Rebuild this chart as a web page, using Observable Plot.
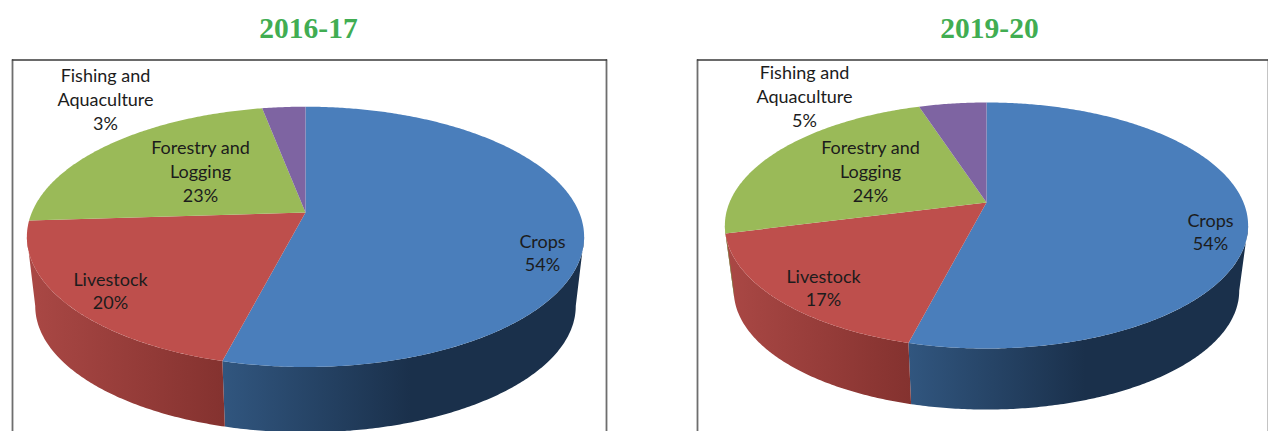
<!DOCTYPE html>
<html>
<head>
<meta charset="utf-8">
<script src="https://cdn.jsdelivr.net/npm/d3@7"></script>
<script src="https://cdn.jsdelivr.net/npm/@observablehq/plot@0.6"></script>
<style>
  html, body { margin: 0; padding: 0; background: #fff; }
  svg { display: block; }
</style>
</head>
<body>
<div id="chart"></div>
<script>
// Sector shares in percent, listed clockwise from twelve o'clock.
const categories = ["Crops", "Livestock", "Forestry and\nLogging", "Fishing and\nAquaculture"];
const shares2016 = [54, 20, 23, 3];
const shares2019 = [54, 17, 24, 5];
const yearLabels = ["2016-17", "2019-20"];

// Colours per category: top face, wall start, wall end.
const faceColors = ["#4a7ebb", "#be4f4c", "#9aba58", "#7e64a2"];
const wallColors = [["#31567f", "#1a304b"], ["#aa4845", "#84322f"], ["#7d9645", "#6d833c"], ["#64507f", "#55446c"]];

// Placement of each disc on the page coordinate system.
const panels = [
  {
    id: "a", year: yearLabels[0], shares: shares2016,
    titleX: 308, frame: {left: 12, right: 606},
    apexX: 305, apexY: 212, radiusX: 273.7, radiusY: 125.6,
    drop: 70, bottomScale: 0.97,
    labels: [[542, 251.5], [110, 289.5], [200, 170], [105, 98]]
  },
  {
    id: "b", year: yearLabels[1], shares: shares2019,
    titleX: 989, frame: {left: 697, right: 1268},
    apexX: 986, apexY: 202, radiusX: 257, radiusY: 118.7,
    drop: 66, bottomScale: 0.966,
    labels: [[1210, 230.5], [823, 286.5], [870, 170], [804, 95]]
  }
];

// Foreshortening of the tilted disc: the near edge looks larger than the far edge.
const tilt = 0.187;
const wallStart = Math.acos(-tilt);
const wallEnd = 2 * Math.PI - wallStart;

// Projects a point on the rim at clockwise angle t from twelve o'clock.
function rim(p, t, scale = 1, drop = 0) {
  const u = Math.sin(t), v = -Math.cos(t), d = 1 - tilt * v;
  return {x: p.apexX + scale * p.radiusX * u / d, y: p.apexY + drop + scale * p.radiusY * v / d};
}

function arc(p, a0, a1, scale, drop) {
  const n = Math.max(2, Math.ceil(Math.abs(a1 - a0) / 0.01));
  return d3.range(n + 1).map((i) => rim(p, a0 + (a1 - a0) * i / n, scale, drop));
}

function sliceAngles(shares) {
  let total = 0;
  return shares.map((s) => {
    const a0 = total / 100 * 2 * Math.PI;
    total += s;
    return [a0, total / 100 * 2 * Math.PI];
  });
}

const marks = [];

// Gradient definitions for the shaded walls.
marks.push(() => {
  const defs = d3.create("svg:defs");
  panels.forEach((p) => wallColors.forEach((c, i) => {
    const g = defs.append("linearGradient").attr("id", `wall-${p.id}-${i}`);
    g.append("stop").attr("offset", "0%").attr("stop-color", c[0]);
    g.append("stop").attr("offset", i === 0 ? "52%" : "100%").attr("stop-color", c[1]);
    g.append("stop").attr("offset", "100%").attr("stop-color", c[1]);
  }));
  return defs.node();
});

for (const p of panels) {
  const angles = sliceAngles(p.shares);
  const {left, right} = p.frame;

  // Frame around the pie: darker top edge, greyer sides running off the bottom of the page.
  marks.push(Plot.line([[left, 431], [left, 59.5]], {stroke: "#6e6e6e", strokeWidth: 1.8}));
  marks.push(Plot.line([[right, 431], [right, 59.5]], {stroke: "#6e6e6e", strokeWidth: 1.8}));
  marks.push(Plot.line([[left, 59.5], [right, 59.5]], {stroke: "#3a3a3a", strokeWidth: 1.4}));

  // Walls, visible only on the near side of the disc.
  angles.forEach(([a0, a1], i) => {
    const from = Math.max(a0, wallStart), to = Math.min(a1, wallEnd);
    if (from >= to) return;
    const outline = [...arc(p, from, to, 1, 0), ...arc(p, to, from, p.bottomScale, p.drop)];
    marks.push(Plot.line(outline, {x: "x", y: "y", fill: `url(#wall-${p.id}-${i})`, stroke: "none"}));
  });

  // Top face wedges.
  angles.forEach(([a0, a1], i) => {
    const outline = [{x: p.apexX, y: p.apexY}, ...arc(p, a0, a1, 1, 0)];
    marks.push(Plot.line(outline, {x: "x", y: "y", fill: faceColors[i], stroke: "none"}));
  });

  // Category and percentage labels.
  marks.push(Plot.text(categories.map((c, i) => ({
    text: `${c}\n${p.shares[i]}%`, x: p.labels[i][0], y: p.labels[i][1]
  })), {
    x: "x", y: "y", text: "text", fontFamily: "Lato", fontSize: 18,
    lineHeight: 1.32, fill: "#1c1c1c"
  }));

  // Year heading.
  marks.push(Plot.text([p.year], {
    x: () => p.titleX, y: () => 28, fontFamily: "Liberation Serif", fontWeight: "bold",
    fontSize: 29.5, fill: "#41ad52"
  }));
}

const chart = Plot.plot({
  width: 1268,
  height: 431,
  margin: 0,
  x: {domain: [0, 1268], axis: null},
  y: {domain: [431, 0], axis: null},
  marks
});
document.getElementById("chart").append(chart);
</script>
</body>
</html>
